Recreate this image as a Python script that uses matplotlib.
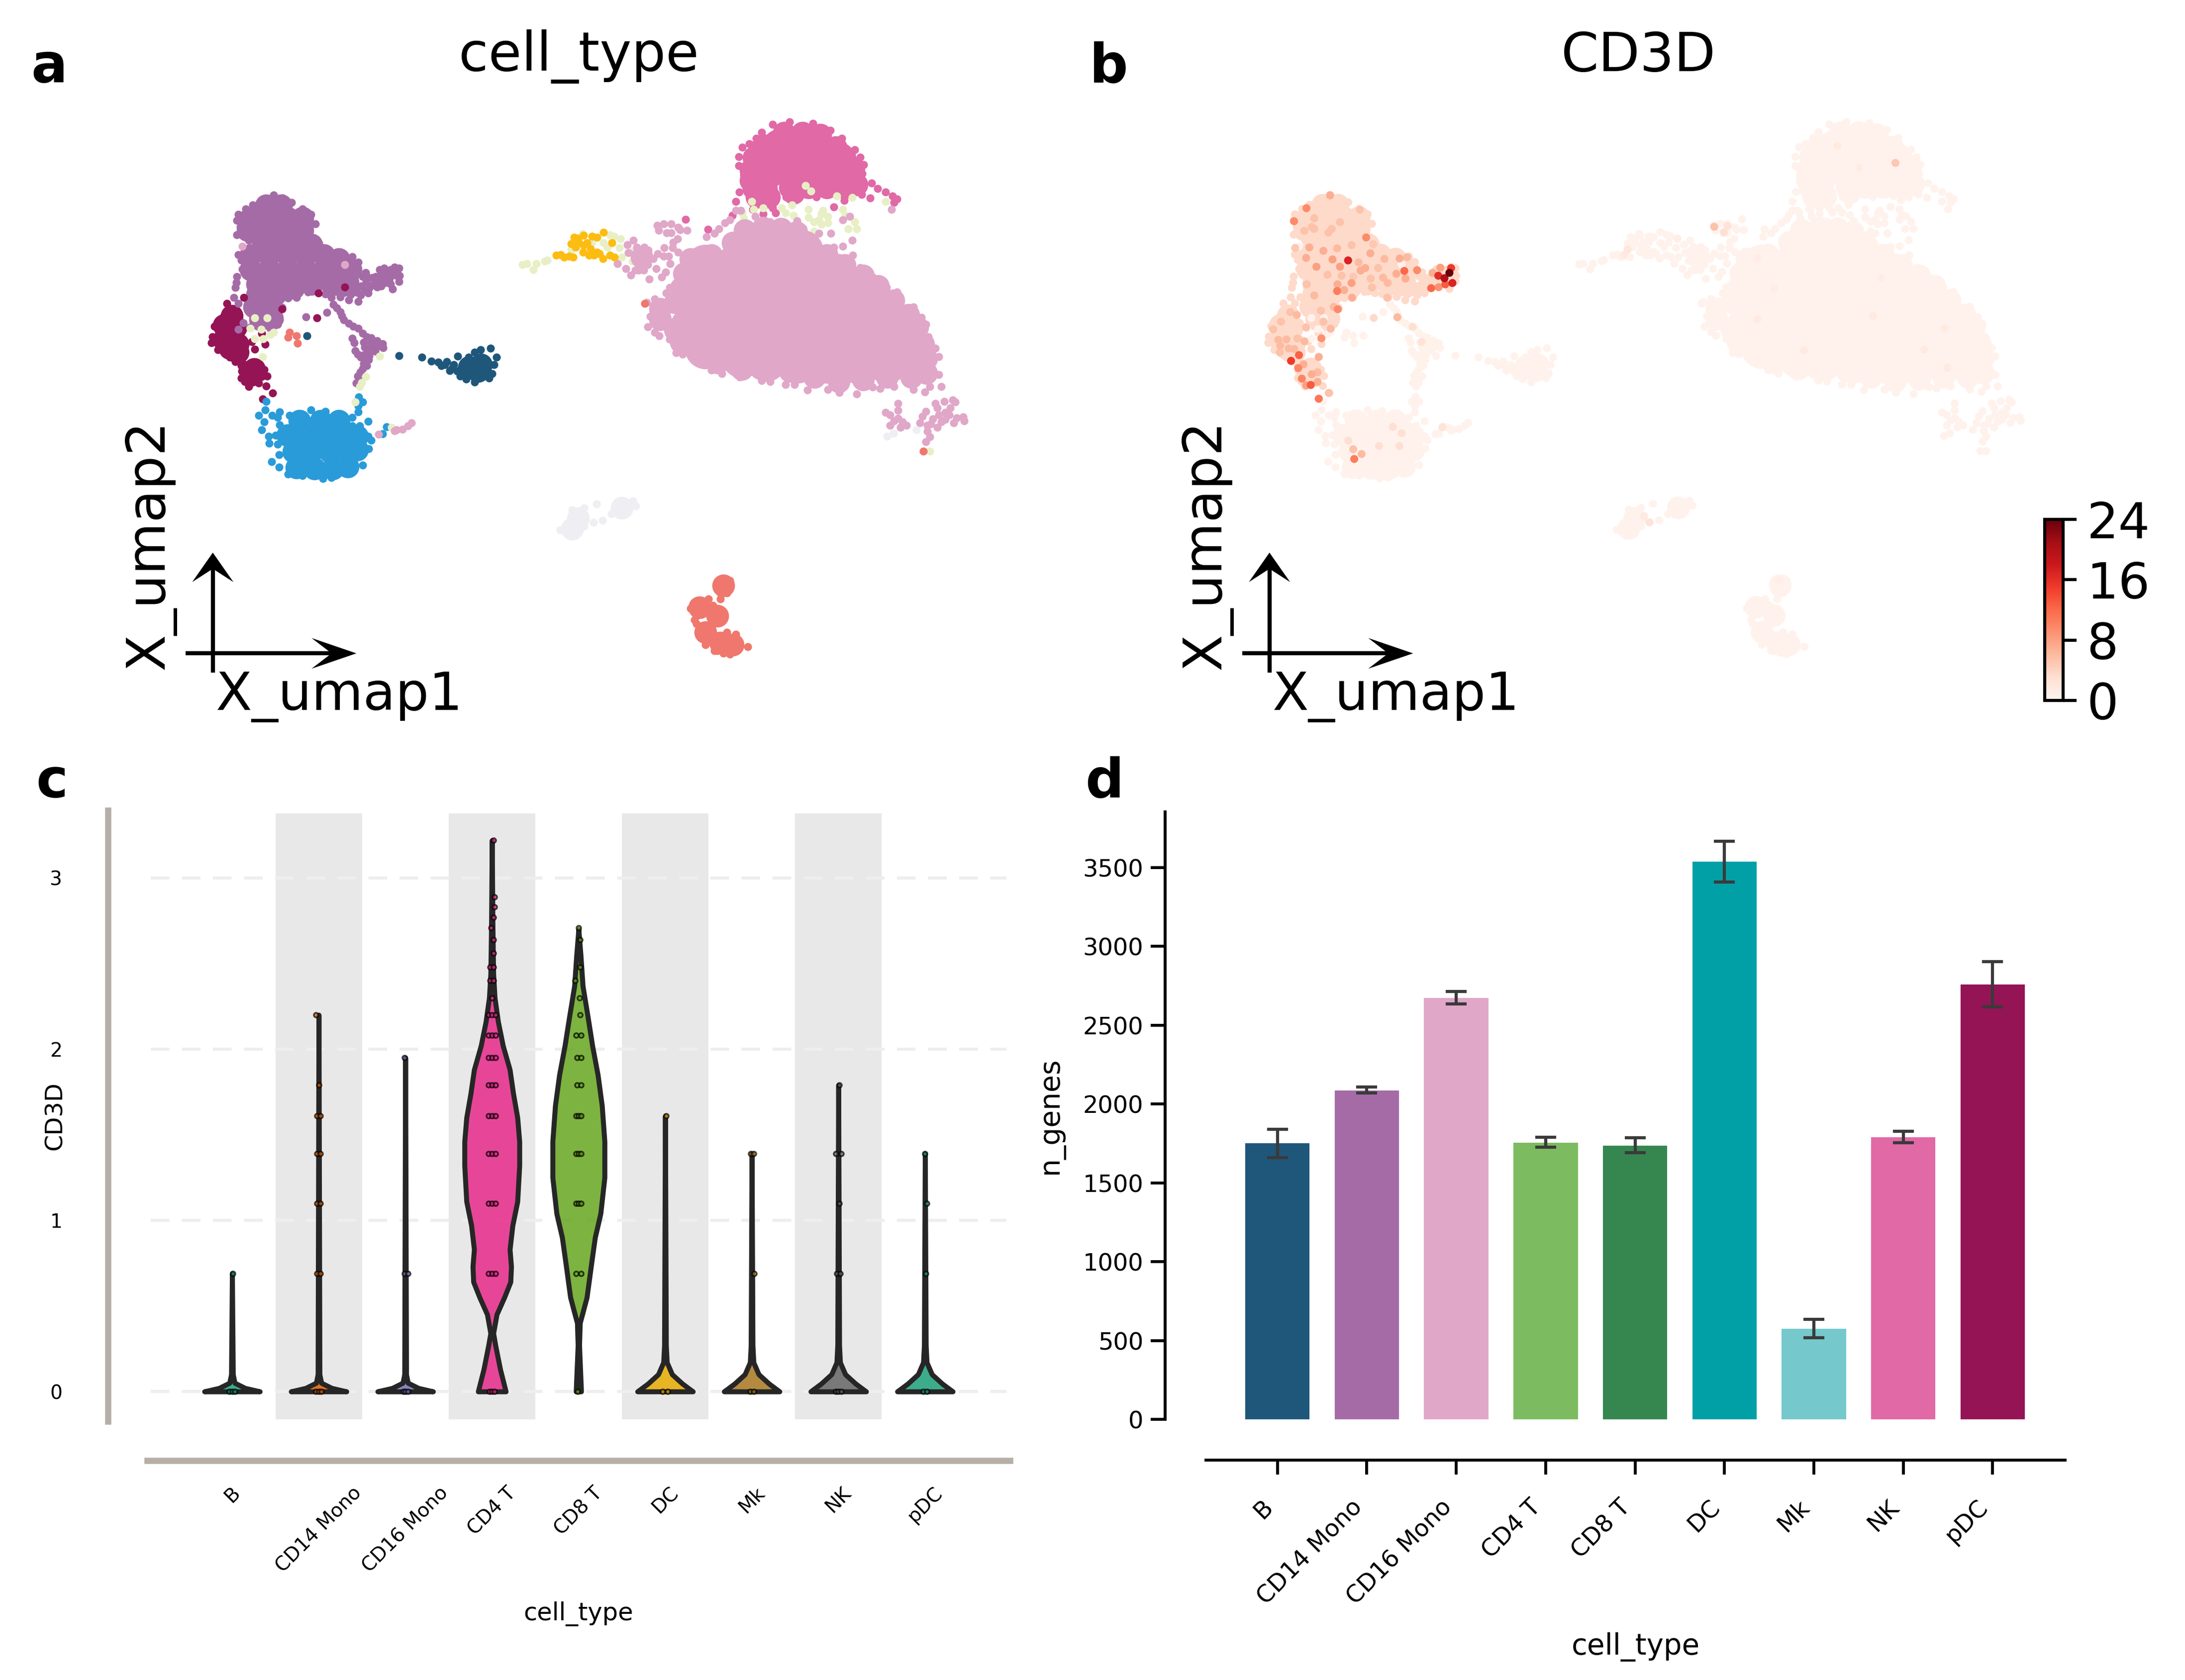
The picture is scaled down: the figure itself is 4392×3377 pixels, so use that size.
import numpy as np
import matplotlib
matplotlib.use("Agg")
import matplotlib.pyplot as plt

FIG_W, FIG_H = 4392, 3377

cell_types = ["B", "CD14 Mono", "CD16 Mono", "CD4 T", "CD8 T", "DC", "Mk", "NK", "pDC"]

# ---- umap cells, each cluster as big / mid / single dots
cd16_big = [(1090, 360), (1130, 360), (1160, 365),
            (1000, 400), (1050, 400), (1100, 400), (1150, 400), (1190, 405),
            (985, 450), (1040, 450), (1090, 450), (1140, 450), (1190, 450), (1240, 455),
            (985, 500), (1040, 500), (1090, 500), (1140, 500), (1190, 500), (1240, 500), (1290, 505),
            (975, 550), (1030, 550), (1090, 550), (1140, 550), (1190, 550), (1240, 550), (1290, 550), (1325, 555),
            (1000, 600), (1050, 600), (1100, 600), (1150, 600), (1200, 600), (1250, 600), (1300, 600), (1340, 600),
            (1060, 622), (1100, 630), (1150, 635), (1200, 635), (1250, 635), (1300, 635), (1345, 635)]
cd16_mid = [(965, 420), (975, 385), (1010, 375), (1045, 345), (1065, 330), (1100, 325), (1135, 330), (1170, 350),
            (1200, 375), (1230, 400), (1260, 425), (1285, 450), (1310, 485), (1335, 520), (1350, 550), (1360, 590),
            (1365, 625), (1365, 660), (1340, 670), (1300, 670), (1260, 675), (1220, 680), (1180, 670), (1140, 655),
            (1100, 650), (1060, 650), (1020, 635), (990, 610), (960, 585), (950, 555), (925, 530), (925, 505),
            (950, 490), (960, 455), (1065, 315), (1095, 310), (1125, 312), (1150, 320), (895, 380)]
cd16_dot = [(920, 304), (931, 300), (943, 300), (955, 308), (970, 315), (923, 316), (936, 322), (943, 322), (958, 314),
            (954, 336), (947, 344), (946, 358), (932, 357), (881, 340), (871, 350), (887, 356), (899, 356), (906, 364),
            (892, 372), (873, 370), (921, 372), (931, 378), (903, 380), (898, 400), (905, 398), (890, 412), (877, 424),
            (869, 408), (855, 396), (884, 412), (898, 412), (907, 433), (919, 408), (928, 428), (934, 416), (942, 396),
            (939, 378), (955, 368), (898, 384), (914, 384),
            (1002, 331), (1015, 323), (1022, 312), (1032, 298), (1040, 290), (1050, 268), (1058, 268),
            (1082, 282), (1107, 295), (1128, 298), (1151, 293), (1161, 311), (1187, 323), (1207, 323), (1227, 290),
            (1238, 282), (1307, 265), (1212, 356), (1227, 354), (1242, 339), (1243, 376), (1221, 381), (1255, 406),
            (1276, 428), (1299, 453), (1316, 464), (1343, 500), (1356, 525), (1364, 542), (1368, 572), (1379, 600),
            (1385, 620), (1385, 664), (1389, 692), (1370, 692), (1362, 705), (1343, 700), (1311, 692), (1288, 697),
            (1276, 694), (1250, 710), (1221, 707), (1202, 700), (1168, 701), (1147, 688), (1132, 688), (1107, 680),
            (1093, 678), (1057, 669), (1027, 661), (1010, 653), (989, 636), (979, 622), (962, 614), (952, 611),
            (952, 597), (941, 578), (924, 570), (916, 561), (905, 548), (909, 523), (916, 506), (903, 489), (916, 481),
            (935, 467), (941, 453), (1318, 733), (1318, 750), (1297, 755), (1305, 761), (1318, 769), (1305, 786),
            (1322, 791), (1332, 786), (1311, 775), (1325, 778), (1379, 733), (1383, 744), (1394, 728), (1408, 725),
            (1412, 730), (1404, 744), (1364, 752), (1358, 764), (1354, 780), (1385, 761), (1396, 772), (1410, 780),
            (1425, 766), (1427, 775), (1383, 791), (1366, 786), (1366, 800), (1370, 813), (1364, 825), (1402, 761),
            (1389, 777), (1375, 770), (1372, 782), (1396, 755), (1415, 768),
            (509, 787), (500, 795), (490, 797), (515, 780), (461, 807), (487, 799), (236, 354), (405, 398)]

nk_big = [(1125, 120), (1175, 115), (1215, 150), (1100, 165), (1160, 170), (1200, 175)]
nk_mid = [(1130, 80), (1160, 80), (1190, 85),
          (1095, 110), (1215, 115),
          (1080, 140), (1230, 140),
          (1075, 170), (1225, 170), (1245, 165),
          (1075, 195), (1225, 195),
          (1080, 215), (1100, 215), (1140, 212), (1170, 212), (1200, 212), (1230, 212), (1250, 205),
          (1085, 235), (1105, 235), (1145, 225)]
nk_dot = [(1111, 60), (1139, 54), (1177, 57), (1206, 74), (1225, 93), (1246, 121), (1255, 139), (1261, 157), (1252, 160),
          (1259, 179), (1274, 202), (1284, 215), (1297, 223), (1309, 233), (1316, 240), (1311, 248), (1272, 237),
          (1258, 229), (1242, 215), (1229, 243), (1212, 259), (1183, 235), (1156, 232), (1133, 235), (1111, 262),
          (1109, 248), (1082, 235), (1050, 246), (1044, 279), (1004, 313), (967, 289), (1055, 160), (1055, 138),
          (1061, 115), (1072, 107), (1084, 93), (1093, 79), (1063, 182), (1063, 198), (1056, 223), (1078, 265),
          (1095, 276), (1116, 273)]

cd14_mid = [(275, 255), (300, 255), (250, 285), (280, 285), (310, 285), (335, 285),
            (245, 315), (275, 315), (305, 315), (335, 315), (270, 345), (300, 345), (330, 345), (350, 350),
            (250, 375), (280, 375), (310, 375), (340, 375), (370, 375), (395, 385),
            (250, 410), (280, 410), (310, 410), (340, 410), (370, 410), (400, 410), (415, 410),
            (260, 445), (290, 445), (320, 445), (350, 445), (380, 440), (410, 440),
            (260, 470), (290, 470), (320, 455), (255, 500), (280, 500), (265, 530), (285, 528)]
cd14_dot = [(287, 230), (302, 237), (317, 248), (267, 247), (253, 254), (241, 264), (229, 277), (227, 292), (232, 307),
            (227, 326), (241, 322), (246, 340), (335, 264), (349, 277), (342, 307), (356, 300), (349, 332), (362, 347),
            (376, 362), (229, 374), (234, 387), (236, 409), (227, 427), (226, 442), (224, 454), (222, 477), (229, 492),
            (246, 507), (294, 542), (282, 552), (248, 549), (237, 539), (229, 554), (325, 477), (344, 464), (311, 479),
            (301, 502), (277, 492), (297, 532), (291, 512), (373, 469), (383, 477), (397, 476), (411, 484), (427, 487),
            (443, 467), (431, 472), (420, 457), (434, 427), (439, 417), (427, 392), (417, 379), (393, 377),
            (456, 427), (470, 407), (487, 404), (494, 407), (487, 419), (494, 439), (484, 457), (472, 442), (458, 452),
            (448, 449), (461, 437), (479, 432), (440, 440), (450, 430), (445, 455), (455, 445), (465, 450), (470, 430),
            (480, 425), (480, 445), (490, 425), (475, 415), (465, 420), (455, 440), (462, 410), (480, 410), (495, 425),
            (440, 425), (432, 450), (438, 460), (425, 465), (415, 470), (405, 465), (395, 465), (385, 465)]
cd14_arm_dot = [(341, 524), (375, 513), (386, 494), (392, 503), (397, 512), (400, 522), (403, 532), (411, 540), (419, 547),
                (427, 552), (434, 564), (441, 572), (417, 576), (420, 587), (422, 606), (426, 614), (431, 622), (436, 637),
                (434, 649), (430, 658), (426, 667), (424, 684), (428, 675),
                (458, 582), (467, 589), (468, 599), (438, 597), (448, 587), (455, 607), (444, 627), (434, 617), (441, 642),
                (450, 598), (458, 596), (442, 610), (445, 618), (438, 630), (436, 585), (448, 575)]

pdc_mid = [(205, 545), (205, 580), (228, 590), (225, 550), (218, 522), (215, 600), (250, 665), (255, 650), (228, 610)]
pdc_dot = [(210, 492), (215, 512), (205, 522), (190, 547), (186, 572), (185, 587), (195, 604), (215, 622), (224, 632),
           (239, 592), (256, 602), (251, 584), (252, 634), (234, 642), (272, 652), (277, 667), (234, 672), (246, 692),
           (263, 684), (275, 691), (286, 708), (269, 722), (253, 662), (232, 559), (268, 564), (273, 590), (240, 640),
           (235, 655), (245, 645), (240, 680), (268, 668), (262, 640)]
pdc_top_dot = [(238, 477), (301, 505), (361, 467), (359, 527), (405, 452), (328, 867), (340, 856)]

b_mid = [(610, 645), (630, 640), (625, 655)]
b_dot = [(342, 570), (494, 618), (532, 622), (548, 631), (559, 633), (645, 600), (655, 622), (651, 640), (648, 661),
         (619, 682), (629, 604), (619, 609), (591, 619), (573, 632), (578, 654), (595, 667), (605, 674), (564, 642),
         (609, 622), (643, 672), (585, 640), (597, 648), (570, 640), (582, 648), (590, 655)]

blue_mid = [(330, 775), (365, 775), (395, 775),
            (310, 810), (340, 810), (370, 810), (400, 810), (425, 812),
            (320, 850), (350, 850), (380, 850), (410, 850), (425, 845),
            (325, 888), (355, 890), (385, 890), (410, 885)]
blue_dot = [(428, 717), (434, 729), (427, 739), (427, 754), (417, 767), (429, 787), (443, 776), (275, 728), (263, 762),
            (273, 749), (272, 777), (268, 797), (279, 812), (280, 829), (294, 767), (297, 754), (284, 874), (296, 887),
            (311, 904), (335, 907), (369, 914), (383, 912), (408, 902), (420, 894), (434, 882), (444, 842), (448, 822),
            (443, 812), (434, 804), (474, 789), (467, 806), (314, 762), (349, 749), (373, 752), (397, 764), (417, 787),
            (294, 832), (296, 857), (285, 762), (297, 785), (291, 810)]

pale_dot = [(256, 527), (277, 527), (267, 554), (256, 577), (270, 577), (282, 567), (287, 562), (249, 552), (269, 620),
            (439, 668), (433, 683), (429, 692), (422, 729), (462, 619), (482, 791),
            (1165, 207), (1174, 221), (1217, 233), (1242, 236), (1297, 246), (1076, 246), (1061, 273), (1063, 287),
            (1080, 265), (1126, 262), (1132, 273), (1143, 254), (1145, 279), (1170, 265), (1191, 276), (1202, 282),
            (1179, 295), (1191, 301), (1202, 298), (1227, 265), (1231, 279), (1246, 295), (1236, 312), (1250, 312),
            (1125, 323), (1179, 318), (1164, 329), (1095, 262), (1170, 284), (1187, 290), (1194, 268),
            (698, 398), (705, 396), (721, 396), (716, 410), (735, 390), (739, 387), (797, 324), (778, 362), (813, 344),
            (832, 346), (838, 356), (842, 326), (860, 336), (858, 358), (862, 380), (879, 390), (880, 366), (849, 330),
            (1370, 848)]
dc_dot = [(754, 376), (761, 374), (767, 380), (775, 378), (782, 380), (783, 332), (778, 348), (791, 344), (799, 328),
          (786, 356), (799, 352), (798, 368), (808, 376), (816, 376), (821, 368), (831, 384), (842, 376), (850, 380),
          (821, 332), (832, 320), (846, 345), (810, 360), (813, 330), (790, 335), (805, 345), (825, 372)]
coral_mid = [(1030, 1172), (990, 1225), (1000, 1285), (1025, 1310), (1045, 1315), (1020, 1245)]
coral_dot = [(1030, 1155), (1022, 1165), (1035, 1190), (1025, 1190), (1005, 1205), (1012, 1220), (975, 1228),
             (985, 1245), (1015, 1255), (1025, 1255), (985, 1265), (1000, 1315), (1015, 1330), (1030, 1335),
             (1045, 1300), (1055, 1320), (1070, 1320), (1040, 1338), (1020, 1330), (1035, 1285), (1040, 1160),
             (1000, 1225), (982, 1255), (1025, 1205), (1050, 1290),
             (314, 562), (325, 570), (311, 574), (327, 588), (900, 492), (1360, 848)]
gray_mid = [(790, 1010), (780, 1035), (862, 985)]
gray_dot = [(760, 1038), (775, 1050), (780, 990), (800, 985), (820, 975), (815, 1020), (830, 1015), (845, 1000),
            (880, 968), (885, 980), (800, 1030), (790, 1045), (1300, 812), (1310, 805), (1348, 797)]

# colour and CD3D level per cluster, in drawing order: (colour, level, big, mid, dot)
clusters = [
    ("#941456", 3.5, [], pdc_mid, pdc_dot),
    ("#A56BA7", 3.5, [], cd14_mid, cd14_dot),
    ("#A56BA7", 0.5, [], [], cd14_arm_dot),
    ("#941456", 3.5, [], [], pdc_top_dot),
    ("#1F577B", 0.4, [], b_mid, b_dot),
    ("#2A9BD9", 0.4, [], blue_mid, blue_dot),
    ("#E069A6", 0.4, nk_big, nk_mid, nk_dot),
    ("#E8EFC5", 0.4, [], [], pale_dot),
    ("#E0A7C8", 0.4, cd16_big, cd16_mid, cd16_dot),
    ("#FDBC11", 0.4, [], [], dc_dot),
    ("#F0776D", 0.4, [], coral_mid, coral_dot),
    ("#EFEEF2", 0.4, [], gray_mid, gray_dot),
]

expr_x = [1180, 1150, 1198, 1113, 1190, 1070, 1155, 1115, 1125, 1078, 569, 908, 985, 915, 880, 925, 860, 788, 703, 678,
          318, 243, 460, 335, 420, 503, 316, 378, 475, 520, 632, 645, 672, 590, 505, 503, 545, 593, 365, 320, 445, 530,
          780, 808, 713, 705, 750, 805, 507, 482, 405, 260, 220, 165, 117, 148, 197, 160, 210, 245, 157, 306, 263, 315,
          408, 464, 420, 392, 273, 225, 300, 268, 350, 385, 290, 344, 385, 316, 452, 392, 866, 606, 650, 600, 571, 839,
          892, 878, 755, 1138, 1013, 958, 365, 450, 640, 520, 365, 590, 350, 470, 305, 250, 600, 720]
expr_y = [490, 518, 543, 505, 465, 570, 550, 565, 463, 490, 425, 480, 476, 520, 415, 408, 495, 417, 388, 305,
          152, 220, 85, 357, 375, 362, 412, 458, 420, 458, 435, 478, 465, 543, 550, 585, 580, 620, 608, 550, 500, 505,
          515, 543, 566, 520, 465, 620, 680, 668, 688, 710, 695, 745, 785, 840, 838, 870, 885, 888, 905, 848, 833, 775,
          832, 782, 745, 930, 920, 950, 968, 988, 1020, 1010, 1043, 1076, 1060, 1078, 1118, 1148, 722, 1463, 1437, 1412,
          1367, 1295, 1328, 1395, 1395, 1297, 852, 772, 205, 280, 160, 225, 260, 345, 250, 260, 270, 360, 510, 340]
expr_val = [24, 20, 17, 16, 15, 12, 13, 9, 8, 7, 17, 12, 9.5, 7, 7, 6, 7, 6, 7, 9.5,
            9.5, 9.5, 7, 7, 7, 6, 7, 8, 8, 8, 6, 7, 7, 8, 7, 10.5, 7, 7, 6, 5.5, 5.5, 5.5,
            6, 6, 5.5, 5.5, 5.5, 5.5, 9.5, 6, 5.5, 6, 5.5, 5.5, 5.5, 6, 6, 6, 6, 6, 5.5, 6, 5.5, 5.5,
            9, 6, 5.5, 7, 12.5, 15, 7, 10, 7, 6, 10, 13, 7, 8, 5.5, 11, 6, 10.5, 6, 5.5, 3, 3, 3, 3, 3,
            2.5, 2.5, 3, 5.5, 5.5, 5.5, 5.5, 5.5, 5.5, 5.5, 5.5, 5.5, 5, 5, 5]
far_x = [921, 937, 943, 1220, 1124, 1160, 1301, 1183, 992, 1069, 1306, 1268, 814, 805, 1196, 1020, 992, 860, 778, 772, 1028]
far_y = [307, 320, 305, 153, 112, 165, 552, 522, 530, 605, 647, 603, 1020, 1005, 430, 455, 383, 335, 362, 375, 1160]
far_val = [5.5, 3, 2.5, 5, 1.5, 1.2, 1.5, 1.5, 1.5, 1.5, 1.5, 1.5, 2.5, 1.5, 1.2, 1.2, 1.2, 1, 2, 1.5, 1]

cbar_ticks = [0, 8, 16, 24]

# ---- violins of panel c
violin_colors = ["#1b9e77", "#d95f02", "#7570b3", "#e7298a", "#66a61e", "#e6ab02", "#a6761d", "#666666", "#1b9e77"]
needle_low_y = [0, 0.02, 0.05, 0.1]
needle_low_w = [0.32, 0.15, 0.03, 0.01]
needle_high_y = [0, 0.045, 0.1, 0.17, 0.27]
needle_high_w = [0.32, 0.2, 0.08, 0.02, 0.01]
cd4_y = [0, 0.13, 0.27, 0.34, 0.45, 0.55, 0.64, 0.73, 0.83, 0.97, 1.11, 1.32, 1.46, 1.6, 1.74, 1.88, 2.02, 2.16, 2.3, 2.44, 2.72, 3.22]
cd4_w = [0.16, 0.095, 0.04, 0.016, 0.055, 0.143, 0.214, 0.222, 0.206, 0.238, 0.294, 0.317, 0.317, 0.294, 0.246, 0.206, 0.127, 0.071, 0.032, 0.016, 0.008, 0]
cd8_y = [0, 0.27, 0.4, 0.55, 0.73, 0.9, 1.04, 1.25, 1.46, 1.67, 1.85, 2.02, 2.2, 2.37, 2.55, 2.7]
cd8_w = [0.03, 0.008, 0.016, 0.095, 0.143, 0.19, 0.254, 0.3, 0.3, 0.27, 0.222, 0.159, 0.103, 0.048, 0.024, 0]
violin_y = [needle_low_y + [0.69], needle_low_y + [2.2], needle_low_y + [1.95], cd4_y, cd8_y,
            needle_high_y + [1.61], needle_high_y + [1.39], needle_high_y + [1.79], needle_high_y + [1.39]]
violin_w = [needle_low_w + [0], needle_low_w + [0], needle_low_w + [0], cd4_w, cd8_w,
            needle_high_w + [0], needle_high_w + [0], needle_high_w + [0], needle_high_w + [0]]

strip_y = [[0, 0, 0, 0.69],
           [0, 0, 0, 0.69, 0.69, 1.10, 1.10, 1.39, 1.39, 1.61, 1.61, 1.79, 2.20],
           [0, 0, 0, 0.69, 0.69, 1.95],
           [0, 0, 0, 0.69, 0.69, 0.69, 1.10, 1.10, 1.10, 1.39, 1.39, 1.39, 1.61, 1.61, 1.61, 1.79, 1.79, 1.79,
            1.95, 1.95, 1.95, 2.08, 2.08, 2.08, 2.20, 2.20, 2.20, 2.30, 2.40, 2.40, 2.48, 2.48, 2.56, 2.64, 2.71, 2.77, 2.83, 2.89, 3.22],
           [0, 0.69, 0.69, 1.10, 1.10, 1.10, 1.39, 1.39, 1.39, 1.61, 1.61, 1.61, 1.79, 1.79, 1.95, 1.95, 2.08, 2.08,
            2.20, 2.30, 2.40, 2.48, 2.64, 2.71],
           [0, 0, 1.61],
           [0, 0, 0.69, 1.39, 1.39],
           [0, 0, 0, 0.69, 0.69, 1.10, 1.39, 1.39, 1.79],
           [0, 0, 0.69, 1.10, 1.39]]
strip_dx = [[-0.03, 0, 0.03, 0.01],
            [-0.03, 0, 0.03, -0.02, 0.02, -0.02, 0.02, -0.02, 0.02, -0.02, 0.02, 0, -0.03],
            [-0.02, 0, 0.03, -0.01, 0.03, -0.01],
            [-0.03, 0, 0.03, -0.04, 0, 0.04, -0.04, 0, 0.04, -0.04, 0, 0.04, -0.04, 0, 0.04, -0.04, 0, 0.04,
             -0.04, 0, 0.04, -0.04, 0, 0.04, -0.04, 0, 0.04, 0, -0.02, 0.02, -0.02, 0.02, 0.02, 0.02, -0.01, 0.02, 0.03, 0.03, 0.02],
            [-0.01, -0.03, 0.03, -0.03, 0, 0.03, -0.03, 0, 0.03, -0.03, 0, 0.03, -0.02, 0.03, -0.02, 0.03, -0.03, 0.03,
             0.02, 0.01, -0.04, 0.02, 0.02, 0],
            [-0.03, 0.03, 0.01],
            [-0.02, 0.02, 0.03, -0.01, 0.02],
            [-0.03, 0, 0.03, -0.02, 0.02, 0.01, -0.03, 0.03, 0.01],
            [-0.02, 0.02, 0.01, 0.02, 0]]

# ---- bars of panel d
n_genes = [1752, 2086, 2672, 1756, 1737, 3538, 574, 1790, 2759]
n_genes_low = [1661, 2071, 2634, 1725, 1691, 3409, 517, 1756, 2615]
n_genes_high = [1839, 2109, 2713, 1790, 1786, 3667, 635, 1828, 2903]
bar_colors = ["#1F577B", "#A56BA7", "#E0A7C8", "#7CBB5F", "#368650", "#01A0A7", "#75C8CC", "#E069A6", "#941456"]


def make_axes(x0, y0, x1, y1):
    return fig.add_axes([x0 / FIG_W, 1 - y1 / FIG_H, (x1 - x0) / FIG_W, (y1 - y0) / FIG_H])


def xy(points):
    if not points:
        return [], []
    a = np.array(points)
    return a[:, 0], a[:, 1]


def umap_frame(ax):
    ax.set_xlim(0, 1560)
    ax.set_ylim(1560, 0)
    ax.axis("off")
    # corner arrows, the heads scale with the umap axes
    ax.plot([187, 187], [1382, 1120], color="k", lw=2, solid_capstyle="butt")
    ax.plot([142, 400], [1336, 1336], color="k", lw=2, solid_capstyle="butt")
    ax.fill([187, 221, 187, 153], [1093, 1164, 1132, 1164], color="k", lw=0)
    ax.fill([424, 350, 383, 350], [1336, 1299, 1336, 1373], color="k", lw=0)
    ax.text(192, 1472, "X_umap1", fontsize=25.5, va="baseline", ha="left")
    ax.text(83, 1375, "X_umap2", fontsize=25.8, rotation=90, va="bottom", ha="center")


fig = plt.figure(figsize=(FIG_W / 300, FIG_H / 300), dpi=300)

# panel a
ax_a = make_axes(200, 200, 2100, 1500)
for color, level, big, mid, dot in clusters:
    for pts, size in [(big, 400), (mid, 120), (dot, 15)]:
        x, y = xy(pts)
        ax_a.scatter(x, y, s=size, color=color, linewidths=0)
umap_frame(ax_a)

# panel b
ax_b = make_axes(2324, 200, 4224, 1500)
for color, level, big, mid, dot in clusters:
    for pts, size in [(big, 400), (mid, 120), (dot, 15)]:
        x, y = xy(pts)
        ax_b.scatter(x, y, s=size, c=np.full(len(x), level), cmap="Reds", vmin=0, vmax=24, linewidths=0)
hi_u1 = 161 + np.array(expr_x) * 0.2737
hi_u2 = 192 + np.array(expr_y) * 0.4615
order = np.argsort(expr_val)
ax_b.scatter(far_x, far_y, s=15, c=far_val, cmap="Reds", vmin=0, vmax=24, linewidths=0)
sc = ax_b.scatter(hi_u1[order], hi_u2[order], s=15, c=np.array(expr_val)[order], cmap="Reds", vmin=0, vmax=24, linewidths=0)
umap_frame(ax_b)

cax = make_axes(4110, 1044, 4147, 1408)
cb = fig.colorbar(sc, cax=cax, ticks=cbar_ticks)
cb.ax.tick_params(labelsize=24, length=6.4, width=1.5, pad=5)
cb.outline.set_linewidth(1.5)

# panel c
ax_c = make_axes(296, 1629, 2030, 2857)
ax_c.set_xlim(-0.98, 8.98)
ax_c.set_ylim(-0.174, 3.395)
for i in [1, 3, 5, 7]:
    ax_c.axvspan(i - 0.5, i + 0.5, ymin=0.003, ymax=0.995, color="#E8E8E8", lw=0, zorder=0)
ax_c.hlines([0, 1, 2, 3], -0.94, 8.94, color="#EEEEEE", lw=1.5, linestyles=(0, (6, 4)), zorder=1)
for i in range(len(cell_types)):
    vy = np.array(violin_y[i])
    vw = np.array(violin_w[i])
    ax_c.fill_betweenx(vy, i - vw, i + vw, facecolor=matplotlib.colors.to_rgba(violin_colors[i], 0.85),
                       edgecolor="#262626", lw=2.4, joinstyle="round", zorder=2)
    ax_c.scatter(i + np.array(strip_dx[i]), strip_y[i], s=5, color=violin_colors[i], edgecolors="k",
                 linewidths=0.8, alpha=0.7, zorder=3)
for side in ["top", "right"]:
    ax_c.spines[side].set_visible(False)
for side in ["left", "bottom"]:
    ax_c.spines[side].set_position(("outward", 19))
    ax_c.spines[side].set_color("#B5AFA8")
    ax_c.spines[side].set_linewidth(3)
ax_c.set_xticks(range(len(cell_types)))
ax_c.set_xticklabels(cell_types, rotation=45, ha="center", fontsize=9.4)
ax_c.set_yticks([0, 1, 2, 3])
ax_c.tick_params(axis="both", length=0, labelsize=9.4)
ax_c.tick_params(axis="x", pad=11)
ax_c.tick_params(axis="y", pad=22)
ax_c.set_ylabel("CD3D", fontsize=11.5, labelpad=-8)
ax_c.set_xlabel("cell_type", fontsize=11.9, labelpad=12)

# panel d
ax_d = make_axes(2424, 1632, 4151, 2853)
ax_d.set_xlim(-0.80, 8.81)
ax_d.set_ylim(0, 3853)
ax_d.bar(range(len(cell_types)), n_genes, width=0.72, color=bar_colors, linewidth=0)
err = [np.array(n_genes) - np.array(n_genes_low), np.array(n_genes_high) - np.array(n_genes)]
ax_d.errorbar(range(len(cell_types)), n_genes, yerr=err, fmt="none", ecolor="#3A3A3A", elinewidth=1.5,
              capsize=5, capthick=1.5)
for side in ["top", "right"]:
    ax_d.spines[side].set_visible(False)
for side in ["left", "bottom"]:
    ax_d.spines[side].set_position(("outward", 19.7))
    ax_d.spines[side].set_linewidth(1.4)
ax_d.set_xticks(range(len(cell_types)))
ax_d.set_xticklabels(cell_types, rotation=45, ha="right", fontsize=11.5)
ax_d.set_yticks(range(0, 4000, 500))
ax_d.tick_params(axis="both", length=7, width=1.4, labelsize=11.5)
ax_d.tick_params(axis="x", pad=10)
ax_d.set_ylabel("n_genes", fontsize=13.6, labelpad=9)
ax_d.set_xlabel("cell_type", fontsize=13.9, labelpad=11)

# titles and panel letters
fig.text(1163 / FIG_W, 1 - 113 / FIG_H, "cell_type", fontsize=26, ha="center", va="center")
fig.text(3294 / FIG_W, 1 - 113 / FIG_H, "CD3D", fontsize=26, ha="center", va="center")
for letter, lx, ly in [("a", 62, 165), ("b", 2190, 165), ("c", 72, 1602), ("d", 2181, 1602)]:
    fig.text(lx / FIG_W, 1 - ly / FIG_H, letter, fontsize=26, fontweight="bold", ha="left", va="baseline")

fig.savefig("out.png", dpi=300)
